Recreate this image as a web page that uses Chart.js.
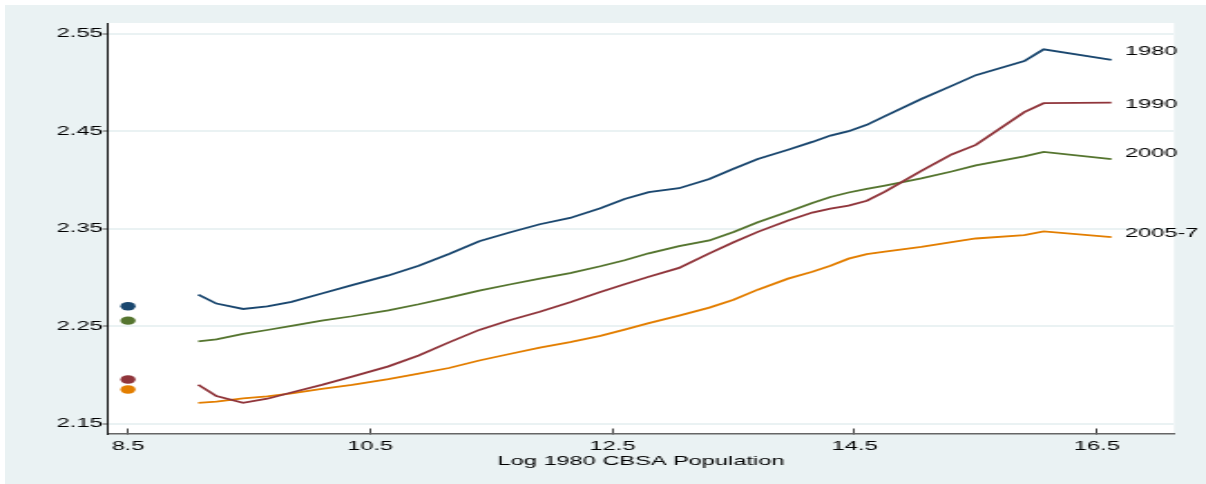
<!DOCTYPE html>
<html>
<head>
<meta charset="utf-8">
<script src="https://cdn.jsdelivr.net/npm/chart.js@4/dist/chart.umd.min.js"></script>
<style>
  html, body { margin: 0; padding: 0; background: #fff; }
  #frame { position: relative; width: 1206px; height: 484px; overflow: hidden; background: #fff; }
  #panel { position: absolute; left: 5px; top: 5px; right: 0; bottom: 0; background: #eaf2f3; }
  /* the graph is laid out at 666 px wide and widened to fill the 1206 px frame */
  #chart { position: absolute; left: 0; top: 0; transform-origin: 0 0; transform: scaleX(1.81081); }
</style>
</head>
<body>
<div id="frame">
  <div id="panel"></div>
  <canvas id="chart" width="666" height="484"></canvas>
</div>
<script>
// Log 1980 CBSA population (x positions of the smoothed curves)
const logPop = [9.08, 9.23, 9.45, 9.65, 9.85, 10.1, 10.35, 10.65, 10.9, 11.15, 11.4, 11.65,
  11.9, 12.15, 12.4, 12.6, 12.8, 13.05, 13.3, 13.5, 13.7, 13.95, 14.15, 14.3, 14.45,
  14.6, 14.75, 15.05, 15.3, 15.5, 15.9, 16.06, 16.62];

const yr1980 = [2.2823, 2.2731, 2.2676, 2.2703, 2.2749, 2.2835, 2.2920, 2.3020, 2.3120, 2.3240,
  2.3370, 2.3460, 2.3545, 2.3610, 2.3710, 2.3805, 2.3875, 2.3915, 2.4010, 2.4115, 2.4215,
  2.4310, 2.4390, 2.4455, 2.4500, 2.4565, 2.4655, 2.4830, 2.4965, 2.5075, 2.5220, 2.5340, 2.5231];

const yr1990 = [2.1898, 2.1783, 2.1713, 2.1755, 2.1819, 2.1897, 2.1981, 2.2087, 2.2198, 2.2333,
  2.2461, 2.2560, 2.2647, 2.2744, 2.2849, 2.2930, 2.3006, 2.3097, 2.3246, 2.3361, 2.3467,
  2.3584, 2.3665, 2.3705, 2.3736, 2.3786, 2.3879, 2.4093, 2.4261, 2.4359, 2.4695, 2.4787, 2.4793];

const yr2000 = [2.2344, 2.2364, 2.2420, 2.2460, 2.2503, 2.2556, 2.2601, 2.2661, 2.2724, 2.2792,
  2.2864, 2.2927, 2.2988, 2.3044, 2.3114, 2.3176, 2.3247, 2.3320, 2.3379, 2.3465, 2.3565,
  2.3673, 2.3764, 2.3825, 2.3871, 2.3907, 2.3942, 2.4015, 2.4086, 2.4149, 2.4241, 2.4288, 2.4213];

const yr2005 = [2.1713, 2.1726, 2.1758, 2.1778, 2.1810, 2.1855, 2.1896, 2.1956, 2.2012, 2.2070,
  2.2147, 2.2214, 2.2279, 2.2336, 2.2400, 2.2464, 2.2530, 2.2608, 2.2690, 2.2771, 2.2874,
  2.2987, 2.3058, 2.3120, 2.3192, 2.3238, 2.3263, 2.3312, 2.3361, 2.3399, 2.3434, 2.3471, 2.3414];

// single markers drawn at x = 8.5 for each year
const dotX = 8.5;
const dotValues = [2.2703, 2.1952, 2.2556, 2.1850];

const seriesNames = ['1980', '1990', '2000', '2005-7'];
const seriesValues = [yr1980, yr1990, yr2000, yr2005];
const seriesColors = ['#1a476f', '#90353b', '#55752f', '#e37e00'];

const xTicks = [8.5, 10.5, 12.5, 14.5, 16.5];
const yTicks = [2.15, 2.25, 2.35, 2.45, 2.55];
const xTitle = 'Log 1980 CBSA Population';

const FONT = '"Liberation Sans", Arial, Helvetica, sans-serif';
Chart.defaults.font.family = FONT;
Chart.defaults.font.size = 13;
Chart.defaults.color = '#000';

const lineSets = seriesValues.map((vals, i) => ({
  label: seriesNames[i],
  data: logPop.map((x, k) => ({ x, y: vals[k] })),
  showLine: true,
  borderColor: seriesColors[i],
  borderWidth: 1.8,
  pointRadius: 0,
  tension: 0
}));

const dotSets = dotValues.map((v, i) => ({
  label: seriesNames[i] + ' marker',
  data: [{ x: dotX, y: v }],
  showLine: false,
  pointRadius: 4.2,
  pointBackgroundColor: seriesColors[i],
  pointBorderWidth: 0
}));

// white plot region
const plotBackground = {
  id: 'plotBackground',
  beforeDraw(chart) {
    const { ctx, chartArea: a } = chart;
    ctx.save();
    ctx.fillStyle = '#ffffff';
    ctx.fillRect(a.left, a.top, a.right - a.left, a.bottom - a.top);
    ctx.restore();
  }
};

// year labels to the right of each curve, at the height of its peak
const endLabels = {
  id: 'endLabels',
  afterDatasetsDraw(chart) {
    const { ctx } = chart;
    const yScale = chart.scales.y;
    ctx.save();
    ctx.font = '13px ' + FONT;
    ctx.fillStyle = '#000';
    ctx.textAlign = 'left';
    ctx.textBaseline = 'middle';
    seriesValues.forEach((vals, i) => {
      const meta = chart.getDatasetMeta(i);
      const last = meta.data[meta.data.length - 1];
      const yPix = yScale.getPixelForValue(Math.max(...vals));
      ctx.fillText(seriesNames[i], last.x + 7.5, yPix + 2);
    });
    ctx.restore();
  }
};

new Chart(document.getElementById('chart'), {
  type: 'scatter',
  data: { datasets: [...lineSets, ...dotSets] },
  options: {
    responsive: false,
    animation: false,
    layout: { padding: { top: 23, right: 17.7, left: 0, bottom: 0 } },
    plugins: { legend: { display: false }, tooltip: { enabled: false } },
    scales: {
      x: {
        type: 'linear',
        min: 8.335,
        max: 17.136,
        afterBuildTicks: s => { s.ticks = xTicks.map(v => ({ value: v })); },
        afterFit: s => { s.height = 50.5; },
        ticks: { padding: 10, color: '#000', maxRotation: 0, autoSkip: false,
                 callback: v => Number(v).toFixed(1) },
        grid: { display: true, drawOnChartArea: false, drawTicks: true, tickLength: -5,
                tickColor: '#444', tickWidth: 1 },
        border: { display: true, color: '#666', width: 1.5 },
        title: { display: true, text: xTitle, color: '#000',
                 font: { size: 13 }, padding: { top: 0, bottom: 15.2 } }
      },
      y: {
        type: 'linear',
        min: 2.1398,
        max: 2.561,
        afterBuildTicks: s => { s.ticks = yTicks.map(v => ({ value: v })); },
        afterFit: s => { s.width = 59.64; },
        ticks: { padding: 0, color: '#000', autoSkip: false,
                 callback: v => Number(v).toFixed(2) },
        grid: { color: '#eaf2f3', lineWidth: 2, tickColor: '#555', tickLength: 3, tickWidth: 1 },
        border: { display: true, color: '#111', width: 1 }
      }
    }
  },
  plugins: [plotBackground, endLabels]
});
</script>
</body>
</html>
